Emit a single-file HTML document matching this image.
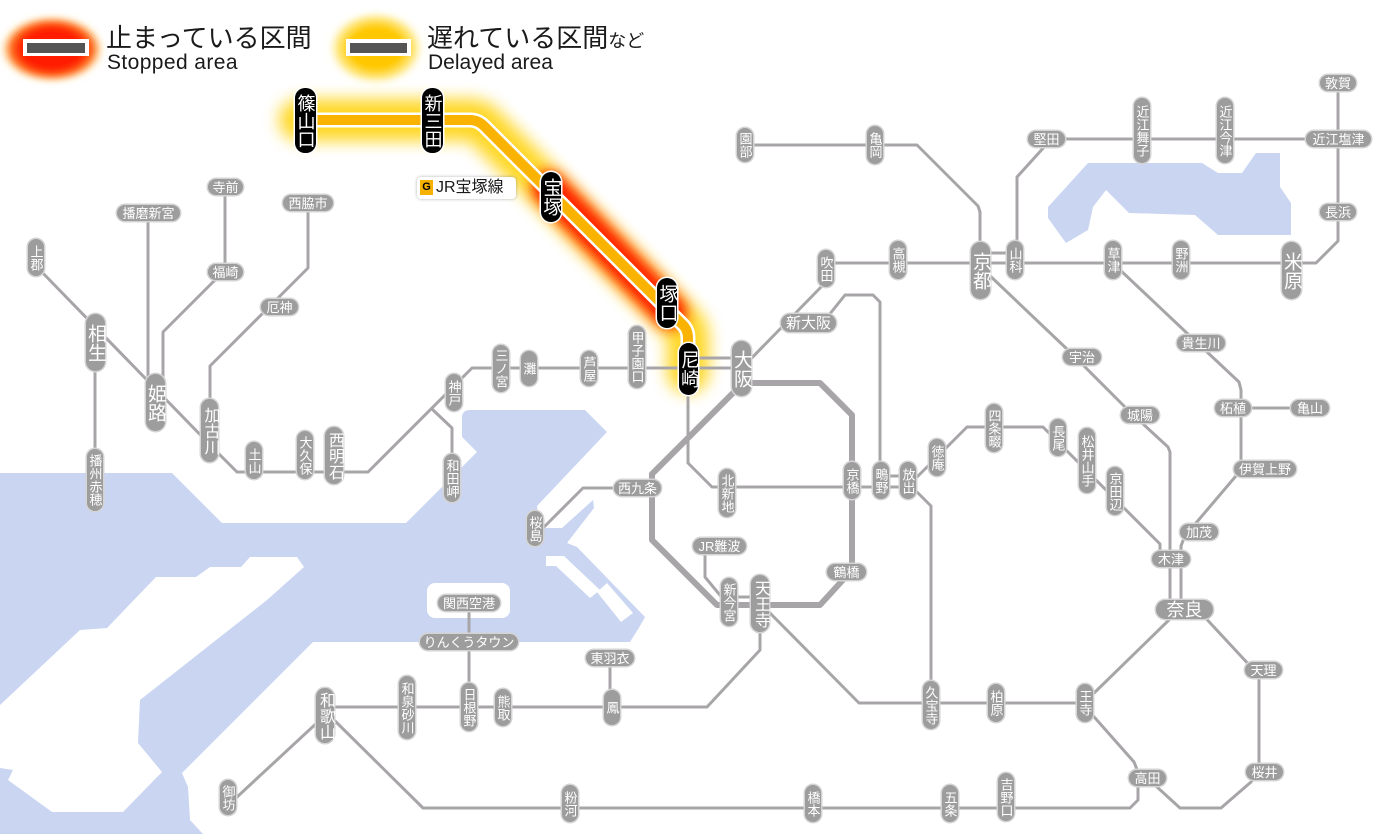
<!DOCTYPE html>
<html lang="ja">
<head>
<meta charset="utf-8">
<style>
html,body{margin:0;padding:0;background:#fff;}
#w{position:relative;width:1400px;height:834px;overflow:hidden;background:#fff;font-family:"Liberation Sans","Noto Sans CJK JP",sans-serif;}
svg{position:absolute;left:0;top:0;}
.s{position:absolute;box-sizing:border-box;background:#9d9d9d;color:#fff;border-radius:8px;font-family:"Liberation Sans","Noto Sans CJK JP",sans-serif;font-size:13px;line-height:13px;height:16px;display:flex;align-items:center;justify-content:center;white-space:nowrap;box-shadow:0 0 0 1.5px #d4d4d4;}
.v{writing-mode:vertical-rl;width:16px;height:auto;}
.b{font-size:19px;line-height:19px;border-radius:10px;}
.m{font-size:16px;line-height:16px;border-radius:9px;}
.k{background:#000;box-shadow:0 0 0 1.5px #fff;font-size:18px;line-height:18px;border-radius:10px;}
.t{position:absolute;color:#1a1a1a;white-space:nowrap;}
</style>
</head>
<body>
<div id="w">
<svg width="1400" height="834" viewBox="0 0 1400 834">
<defs>
<filter id="f1" filterUnits="userSpaceOnUse" x="0" y="0" width="1400" height="834"><feGaussianBlur stdDeviation="8"/></filter>
<filter id="f2" filterUnits="userSpaceOnUse" x="0" y="0" width="1400" height="834"><feGaussianBlur stdDeviation="6"/></filter>
<filter id="f3" filterUnits="userSpaceOnUse" x="0" y="0" width="1400" height="834"><feGaussianBlur stdDeviation="3"/></filter>
<radialGradient id="rg" cx="0.5" cy="0.5" r="0.5">
<stop offset="0" stop-color="#ff1800"/>
<stop offset="0.6" stop-color="#ff2000"/>
<stop offset="0.8" stop-color="#ff5a00" stop-opacity="0.85"/>
<stop offset="0.92" stop-color="#ffb040" stop-opacity="0.4"/>
<stop offset="1" stop-color="#ffe070" stop-opacity="0"/>
</radialGradient>
<radialGradient id="yg" cx="0.5" cy="0.5" r="0.5">
<stop offset="0" stop-color="#ffc400"/>
<stop offset="0.55" stop-color="#ffc800"/>
<stop offset="0.8" stop-color="#ffdc40" stop-opacity="0.7"/>
<stop offset="1" stop-color="#fff4b0" stop-opacity="0"/>
</radialGradient>
</defs>

<!-- water -->
<path fill="#c9d5f1" d="M0,473 L172,473 L222,523 L406,523 L477,452 L462,437 L462,418 Q462,410 470,410 L585,410 L607,432 L537,506 L540,528 L562,528 L593,500 L594,508 L567,543 L577,547 L645,617 L640,626 L630,642 L313,642 L182,773 L188,787 L190,820 L203,834 L0,834 Z"/>
<!-- Awaji island -->
<path fill="#fff" d="M250,557 L297,557 L304,567 L267,600 L140,700 L138,743 L162,772 L123,812 L52,812 L8,780 L13,770 L0,768 L0,705 L80,630 L107,628 L156,577 L196,577 L210,567 L241,567 Z"/>
<!-- Kansai airport -->
<rect x="427" y="583" width="83" height="35" rx="8" fill="#fff"/>
<!-- piers -->
<path fill="#fff" d="M546,556 L564,556 L600,590 L590,598 L556,566 L546,566 Z"/>
<path fill="#fff" d="M597,592 L607,583 L633,613 L621,622 Z"/>
<!-- lake Biwa -->
<path fill="#c9d5f1" d="M1048,207 L1088,163 L1202,163 L1218,173 L1242,173 L1256,153 L1280,153 L1280,187 L1291,203 L1291,235 L1218,235 L1195,215 L1129,213 L1106,190 L1093,207 L1088,230 L1066,243 L1048,218 Z"/>

<!-- glows -->
<path d="M300,120 L470,120 Q478,120 484,126 L684,326 Q688,331 688,338 L688,372" fill="none" stroke="#ffd000" stroke-width="42" stroke-linecap="round" stroke-linejoin="round" opacity="0.85" filter="url(#f1)"/>
<path d="M549,188 L670,312" fill="none" stroke="#ff2000" stroke-width="34" stroke-linecap="round" filter="url(#f2)"/>

<!-- gray lines -->
<g fill="none" stroke="#a8a5a8" stroke-width="3" stroke-linejoin="round" stroke-linecap="round">
<path d="M36,266 L217,452 L237,472 L368,472 L472,368 L741,368"/>
<path d="M148,213 L148,400"/>
<path d="M225,187 L225,272 L213,282 L163,332 L163,400"/>
<path d="M308,203 L308,268 L210,366 L210,430"/>
<path d="M95,342 L95,480"/>
<path d="M433,410 L452,428 L452,478"/>
<path d="M697,358 L741,358"/>
<path d="M688,393 L688,463 L712,487 L912,487"/>
<path d="M881,476 L907,476"/>
<path d="M907,487 L967,427 L1043,427 L1160,544 L1160,559"/>
<path d="M825,320 L845,295 L873,295 L880,302 L880,478"/>
<path d="M912,487 L931,506 L931,705"/>
<path d="M741,369 L822,286 L826,280 L826,272 L835,263 L1316,263 L1338,241 L1338,83"/>
<path d="M980,253 L1016,253"/>
<path d="M745,145 L917,145 L978,206 L980,212 L980,270"/>
<path d="M1338,139 L1046,139"/>
<path d="M1046,145 L1017,177 L1017,260"/>
<path d="M986,272 L1068,350 L1130,412 L1168,447 L1170,452 L1170,609"/>
<path d="M1118,268 L1190,336 L1239,382 L1241,390 L1241,470 L1196,523 L1184,538 L1181,546 L1181,609"/>
<path d="M1233,408 L1310,408"/>
<path d="M637,488 L583,488 L543,528"/>
<path d="M729,597 L760,597"/>
<path d="M705,546 L705,577 L724,600"/>
<path d="M760,603 L760,650 L707,707 L320,707"/>
<path d="M765,608 L859,703 L1085,703"/>
<path d="M1090,697 L1171,618"/>
<path d="M1200,612 L1252,668 L1259,678 L1259,772 L1251,782 L1221,808 L1180,808 L1157,787 L1147,778"/>
<path d="M1088,710 L1134,762 L1138,772 L1138,800 L1130,808 L423,808 L330,716"/>
<path d="M320,720 L237,797"/>
<path d="M469,603 L469,707"/>
<path d="M610,658 L610,707"/>
</g>
<!-- Osaka loop -->
<path d="M741,383 L820,383 L852,415 L852,570 L820,605 L717,605 L652,540 L652,474 L738,388" fill="none" stroke="#a8a5a8" stroke-width="6" stroke-linejoin="round"/>

<!-- highlighted line -->
<path d="M305,120 L470,120 Q478,120 484,126 L684,326 Q688,331 688,338 L688,368" fill="none" stroke="#fff" stroke-width="15" stroke-linejoin="round"/>
<path d="M305,120 L470,120 Q478,120 484,126 L684,326 Q688,331 688,338 L688,368" fill="none" stroke="#f9b300" stroke-width="10" stroke-linejoin="round"/>

<!-- legend -->
<ellipse cx="52" cy="49" rx="52" ry="34" fill="url(#rg)" filter="url(#f3)"/>
<rect x="23" y="39" width="66" height="17" fill="#fff"/>
<rect x="27" y="43" width="58" height="10" fill="#555"/>
<ellipse cx="376" cy="48" rx="48" ry="37" fill="url(#yg)" filter="url(#f3)"/>
<rect x="346" y="39" width="65" height="17" fill="#fff"/>
<rect x="350" y="43" width="57" height="10" fill="#555"/>
</svg>

<!-- legend text -->
<div class="t" style="left:106px;top:25px;font-size:26px;line-height:26px;font-family:'Liberation Sans','Noto Sans CJK JP',sans-serif;">止まっている区間</div>
<div class="t" style="left:107px;top:52px;font-size:21px;line-height:21px;letter-spacing:0.4px;">Stopped area</div>
<div class="t" style="left:427px;top:25px;font-size:26px;line-height:26px;font-family:'Liberation Sans','Noto Sans CJK JP',sans-serif;">遅れている区間<span style="font-size:18px;">など</span></div>
<div class="t" style="left:428px;top:52px;font-size:21px;line-height:21px;">Delayed area</div>

<!-- JR宝塚線 label -->
<div style="position:absolute;left:417px;top:177px;width:99px;height:22px;background:#fff;border-radius:4px;box-shadow:0 0 3px rgba(0,0,0,0.3);"></div>
<div style="position:absolute;left:420px;top:180px;width:13px;height:15px;background:#f5b000;color:#000;font:bold 11px/15px 'Liberation Sans',sans-serif;text-align:center;">G</div>
<div class="t" style="left:436px;top:179px;font-size:16px;line-height:18px;font-family:'Liberation Sans','Noto Sans CJK JP',sans-serif;">JR宝塚線</div>

<!-- vertical normal stations -->
<div class="s v" style="left:28px;top:239px;height:37px">上郡</div>
<div class="s v" style="left:87px;top:449px;height:62px">播州赤穂</div>
<div class="s v" style="left:246px;top:442px;height:37px">土山</div>
<div class="s v" style="left:297px;top:431px;height:48px">大久保</div>
<div class="s v" style="left:446px;top:374px;height:37px">神戸</div>
<div class="s v" style="left:444px;top:454px;height:48px">和田岬</div>
<div class="s v" style="left:493px;top:345px;height:47px">三ノ宮</div>
<div class="s v" style="left:521px;top:351px;height:35px">灘</div>
<div class="s v" style="left:581px;top:351px;height:35px">芦屋</div>
<div class="s v" style="left:629px;top:326px;height:62px">甲子園口</div>
<div class="s v" style="left:818px;top:250px;height:37px">吹田</div>
<div class="s v" style="left:737px;top:128px;height:34px">園部</div>
<div class="s v" style="left:867px;top:126px;height:38px">亀岡</div>
<div class="s v" style="left:890px;top:241px;height:38px">高槻</div>
<div class="s v" style="left:1007px;top:241px;height:38px">山科</div>
<div class="s v" style="left:1105px;top:241px;height:38px">草津</div>
<div class="s v" style="left:1173px;top:241px;height:38px">野洲</div>
<div class="s v" style="left:1134px;top:98px;height:65px">近江舞子</div>
<div class="s v" style="left:1217px;top:98px;height:65px">近江今津</div>
<div class="s v" style="left:719px;top:469px;height:48px">北新地</div>
<div class="s v" style="left:844px;top:462px;height:37px">京橋</div>
<div class="s v" style="left:873px;top:462px;height:37px">鴫野</div>
<div class="s v" style="left:900px;top:462px;height:37px">放出</div>
<div class="s v" style="left:929px;top:439px;height:37px">徳庵</div>
<div class="s v" style="left:986px;top:404px;height:48px">四条畷</div>
<div class="s v" style="left:1050px;top:419px;height:37px">長尾</div>
<div class="s v" style="left:1079px;top:428px;height:65px">松井山手</div>
<div class="s v" style="left:1107px;top:467px;height:48px">京田辺</div>
<div class="s v" style="left:527px;top:511px;height:35px">桜島</div>
<div class="s v" style="left:721px;top:578px;height:48px">新今宮</div>
<div class="s v" style="left:923px;top:681px;height:48px">久宝寺</div>
<div class="s v" style="left:988px;top:684px;height:38px">柏原</div>
<div class="s v" style="left:1077px;top:684px;height:38px">王寺</div>
<div class="s v" style="left:998px;top:773px;height:48px">吉野口</div>
<div class="s v" style="left:942px;top:785px;height:37px">五条</div>
<div class="s v" style="left:805px;top:785px;height:37px">橋本</div>
<div class="s v" style="left:562px;top:785px;height:37px">粉河</div>
<div class="s v" style="left:220px;top:780px;height:35px">御坊</div>
<div class="s v" style="left:399px;top:676px;height:63px">和泉砂川</div>
<div class="s v" style="left:461px;top:683px;height:48px">日根野</div>
<div class="s v" style="left:495px;top:689px;height:37px">熊取</div>
<div class="s v" style="left:604px;top:690px;height:35px">鳳</div>

<!-- big vertical stations -->
<div class="s v b" style="left:86px;top:314px;width:19px;height:57px">相生</div>
<div class="s v b" style="left:146px;top:374px;width:19px;height:57px">姫路</div>
<div class="s v m" style="left:201px;top:399px;width:17px;height:63px">加古川</div>
<div class="s v m" style="left:325px;top:427px;width:18px;height:57px">西明石</div>
<div class="s v b" style="left:732px;top:341px;width:19px;height:55px">大阪</div>
<div class="s v b" style="left:971px;top:242px;width:19px;height:57px">京都</div>
<div class="s v b" style="left:1282px;top:242px;width:19px;height:57px">米原</div>
<div class="s v m" style="left:751px;top:575px;width:18px;height:57px">天王寺</div>
<div class="s v m" style="left:316px;top:688px;width:18px;height:55px">和歌山</div>

<!-- highlighted stations -->
<div class="s v k" style="left:295px;top:88px;width:21px;height:65px">篠山口</div>
<div class="s v k" style="left:422px;top:88px;width:21px;height:65px">新三田</div>
<div class="s v k" style="left:541px;top:172px;width:20px;height:50px;font-size:19px;line-height:19px">宝塚</div>
<div class="s v k" style="left:657px;top:278px;width:20px;height:50px;font-size:19px;line-height:19px">塚口</div>
<div class="s v k" style="left:679px;top:343px;width:19px;height:52px;font-size:19px;line-height:19px">尼崎</div>

<!-- horizontal stations -->
<div class="s" style="left:208px;top:179px;width:35px">寺前</div>
<div class="s" style="left:117px;top:205px;width:63px">播磨新宮</div>
<div class="s" style="left:283px;top:195px;width:50px">西脇市</div>
<div class="s" style="left:208px;top:264px;width:35px">福崎</div>
<div class="s" style="left:261px;top:299px;width:37px">厄神</div>
<div class="s" style="left:781px;top:314px;width:55px;height:18px;font-size:15px;line-height:15px;border-radius:9px">新大阪</div>
<div class="s" style="left:614px;top:480px;width:47px">西九条</div>
<div class="s" style="left:693px;top:538px;width:53px">JR難波</div>
<div class="s" style="left:827px;top:564px;width:39px">鶴橋</div>
<div class="s" style="left:1028px;top:131px;width:37px">堅田</div>
<div class="s" style="left:1306px;top:131px;width:65px">近江塩津</div>
<div class="s" style="left:1320px;top:75px;width:36px">敦賀</div>
<div class="s" style="left:1320px;top:204px;width:36px">長浜</div>
<div class="s" style="left:1063px;top:349px;width:38px">宇治</div>
<div class="s" style="left:1121px;top:407px;width:38px">城陽</div>
<div class="s" style="left:1177px;top:335px;width:48px">貴生川</div>
<div class="s" style="left:1215px;top:400px;width:36px">柘植</div>
<div class="s" style="left:1291px;top:400px;width:38px">亀山</div>
<div class="s" style="left:1234px;top:461px;width:62px">伊賀上野</div>
<div class="s" style="left:1180px;top:524px;width:38px">加茂</div>
<div class="s" style="left:1152px;top:551px;width:38px">木津</div>
<div class="s" style="left:1156px;top:600px;width:57px;height:19px;font-size:18px;line-height:18px;border-radius:10px">奈良</div>
<div class="s" style="left:1245px;top:662px;width:37px">天理</div>
<div class="s" style="left:1246px;top:764px;width:37px">桜井</div>
<div class="s" style="left:1129px;top:770px;width:37px">高田</div>
<div class="s" style="left:586px;top:650px;width:48px">東羽衣</div>
<div class="s" style="left:438px;top:595px;width:62px">関西空港</div>
<div class="s" style="left:420px;top:634px;width:98px">りんくうタウン</div>
</div>
</body>
</html>
